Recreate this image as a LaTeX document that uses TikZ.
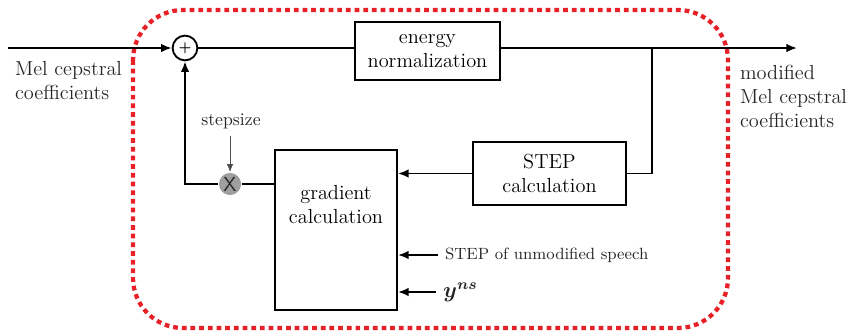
\documentclass[tikz,border=0pt]{standalone}
\usepackage{bm}
\usetikzlibrary{positioning, arrows.meta}
\definecolor{framered}{RGB}{232,32,40}

\begin{document}
\begin{tikzpicture}[x=0.019cm, y=-0.019cm, >={Latex[length=2mm,width=1.6mm]}, line width=1pt,
every node/.style={font=\fontsize{11}{13}\selectfont},
block/.style={rectangle, draw=black, line width=1pt, align=center},
sum/.style={circle, draw=black, line width=1pt, inner sep=0pt, minimum size=0.47cm},
mult/.style={circle, fill=gray!75, inner sep=0pt, minimum size=0.42cm},
lbl/.style={align=left, text=black!85},
small_lbl/.style={lbl, font=\fontsize{8.8}{11}\selectfont},
]

\useasboundingbox (0,0) rectangle (847,333);

% dotted frame round the adaptive part
\draw[framered, line width=2.3pt, dash pattern=on 0.09cm off 0.075cm, rounded corners=0.95cm] (133,10) rectangle (728,328);

% \node[type](name)at(x,y){text}
\node[sum, font=\scriptsize](sum_one) at (185,48){$\bm{+}$};
\node[block, minimum width=2.755cm, minimum height=1.1cm](energy_one) at (427.5,51){energy\\normalization};
\node[block, minimum width=2.91cm, minimum height=1.2cm](step_one) at (549.5,173.5){STEP\\calculation};
\node[block, minimum width=2.32cm, minimum height=3.04cm](gradient_one) at (336,230){};
\node[align=center](gradient_text) at (336,205){gradient\\calculation};
\node[mult, text=black!85](mult_one) at (230,184){\textsf{X}};

\node[lbl, font=\fontsize{9.6}{11}\selectfont](stepsize_one) at (231,121){stepsize};
\node[small_lbl, anchor=west](speech_one) at (438,255){STEP of unmodified speech};
\node[lbl, anchor=west, font=\large](yns_one) at (436,292){$\bm{y}^{\bm{ns}}$};

\coordinate (in_one) at (8,48);
\coordinate (branch_one) at (652,48);
\coordinate (out_one) at (797,48);
\node[lbl, anchor=north west](in_text)[below right=0.12cm and 0cm of in_one]{Mel cepstral\\coefficients};
\node[lbl, anchor=north west](out_text) at (733,58){modified\\Mel cepstral\\coefficients};

% forward path
\draw[->] (in_one) -- (sum_one.west);
\draw (sum_one.east) -- (energy_one.west |- sum_one);
\draw[->] (energy_one.east |- sum_one) -- (out_one);
\draw (branch_one) |- (step_one.east);
\draw[->] (step_one.west) -- (gradient_one.east |- step_one.west);

% feedback path
\draw (gradient_one.west |- mult_one) -- (mult_one.east);
\draw[->] (mult_one.west) -| (sum_one.south);
\draw[-{Latex[length=1.5mm,width=1.2mm]}, thin, black!70] (stepsize_one.south -| mult_one) -- (mult_one.north);

\draw[->] (speech_one.west) -- (gradient_one.east |- speech_one.west);
\draw[->] (yns_one.west) -- (gradient_one.east |- yns_one.west);

\end{tikzpicture}
\end{document}
